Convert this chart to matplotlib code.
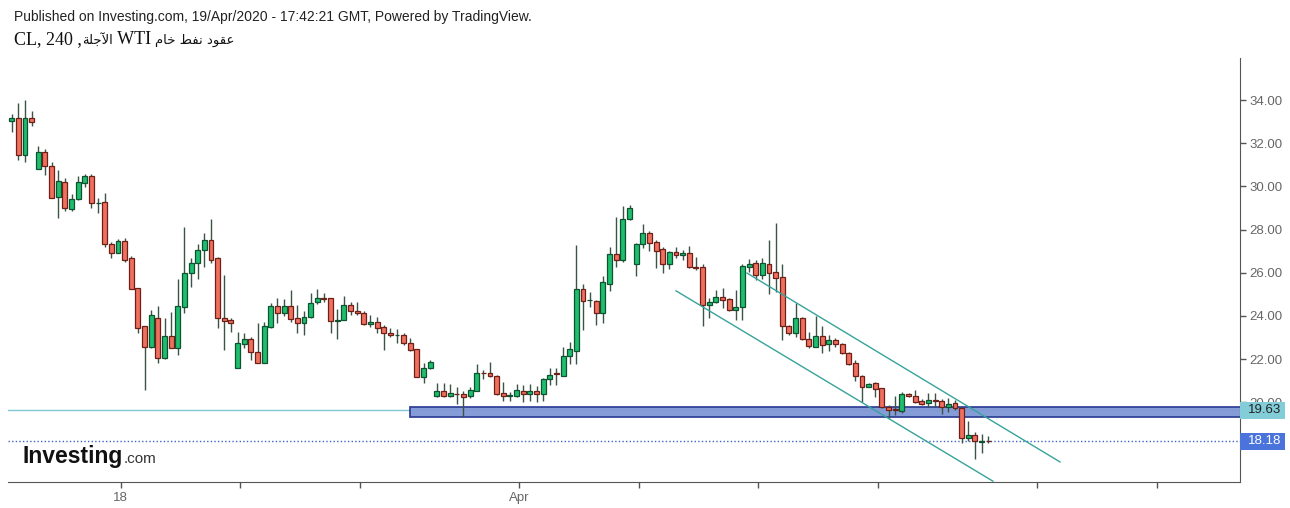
import numpy as np
import matplotlib
matplotlib.use('Agg')
import matplotlib.pyplot as plt
import matplotlib.transforms as mtransforms
from matplotlib.patches import Rectangle

plt.rcParams['font.family'] = ['Liberation Sans', 'DejaVu Sans']

# 4h candles of CL (WTI)
opens = [33.03, 33.15, 31.45, 33.15, 30.80, 31.58, 30.96, 29.52, 30.22, 28.95,
         29.40, 30.17, 30.49, 29.21, 29.26, 27.31, 26.93, 27.48, 26.66, 25.27,
         23.52, 22.57, 23.88, 22.03, 23.06, 22.49, 24.42, 25.97, 26.43, 27.05,
         27.51, 26.66, 23.92, 23.79, 21.57, 22.68, 22.91, 22.34, 21.80, 23.50,
         24.45, 24.12, 24.45, 23.88, 23.65, 23.93, 24.63, 24.83, 24.81, 23.78,
         23.80, 24.49, 24.24, 24.15, 23.61, 23.73, 23.47, 23.22, 23.10, 23.11,
         22.76, 22.45, 21.18, 21.57, 20.28, 20.52, 20.28, 20.37, 20.36, 20.28,
         20.53, 21.35, 21.34, 21.21, 20.41, 20.29, 20.28, 20.53, 20.38, 20.53,
         20.38, 21.06, 21.31, 21.21, 22.14, 22.39, 25.23, 24.72, 24.70, 24.12,
         25.47, 26.86, 26.59, 28.47, 26.40, 27.33, 27.85, 27.44, 27.08, 26.40,
         26.97, 26.82, 26.93, 26.26, 26.25, 24.50, 24.66, 24.89, 24.77, 24.27,
         24.39, 26.28, 26.43, 25.89, 26.40, 26.05, 25.78, 23.53, 23.19, 23.88,
         22.91, 22.57, 23.06, 22.70, 22.88, 22.70, 22.29, 21.80, 21.21, 20.72,
         20.88, 20.64, 19.76, 19.64, 19.61, 20.38, 20.28, 20.05, 19.95, 20.08,
         20.07, 19.76, 19.95, 19.71, 18.32, 18.48, 18.17, 18.19]
highs = [33.35, 33.85, 34.00, 33.49, 31.88, 31.73, 31.11, 30.76, 30.40, 29.63,
         30.49, 30.56, 30.56, 29.44, 29.68, 27.43, 27.56, 27.59, 26.79, 25.27,
         23.52, 24.27, 24.47, 23.88, 24.19, 25.71, 28.13, 26.66, 27.31, 27.82,
         28.47, 26.74, 25.89, 23.89, 23.24, 23.19, 23.04, 23.65, 23.73, 24.61,
         24.81, 24.76, 25.20, 24.50, 24.22, 25.07, 25.23, 25.07, 24.81, 24.30,
         24.92, 24.65, 24.65, 24.24, 24.04, 23.96, 23.58, 23.42, 23.37, 23.19,
         22.96, 22.45, 21.83, 21.95, 20.90, 20.90, 20.83, 20.72, 20.52, 20.69,
         21.77, 21.49, 21.88, 21.26, 20.95, 20.48, 20.83, 20.79, 20.85, 20.76,
         21.11, 21.57, 21.57, 22.57, 22.80, 27.28, 25.47, 25.12, 24.73, 25.84,
         27.17, 28.56, 29.09, 29.13, 27.39, 28.25, 27.94, 27.51, 27.17, 27.00,
         27.17, 27.05, 27.23, 26.71, 26.40, 24.81, 25.20, 25.27, 24.81, 25.20,
         26.40, 26.62, 26.59, 26.66, 27.51, 28.29, 26.40, 23.58, 24.58, 23.96,
         23.27, 24.00, 23.53, 23.11, 22.96, 22.76, 22.34, 21.95, 21.26, 20.90,
         20.95, 20.64, 19.87, 20.28, 20.48, 20.44, 20.56, 20.13, 20.41, 20.41,
         20.13, 20.18, 20.10, 19.76, 19.14, 18.63, 18.52, 18.43]
lows = [32.53, 31.22, 31.14, 32.81, 30.80, 30.52, 29.44, 28.52, 28.86, 28.86,
        29.37, 29.98, 29.01, 28.75, 27.20, 26.69, 26.90, 26.51, 25.24, 23.19,
        20.56, 22.53, 21.80, 22.00, 22.49, 22.18, 24.12, 25.35, 25.71, 26.28,
        26.43, 23.42, 22.42, 23.24, 21.57, 22.49, 21.94, 21.80, 21.80, 23.45,
        23.68, 23.99, 23.73, 23.22, 23.11, 23.88, 24.54, 24.66, 23.19, 22.91,
        23.80, 24.04, 24.04, 23.58, 23.47, 23.22, 22.42, 23.00, 22.75, 22.65,
        22.39, 21.15, 20.90, 21.53, 20.25, 20.23, 20.23, 19.90, 19.32, 20.18,
        20.50, 21.06, 21.18, 20.33, 20.07, 20.07, 20.25, 20.02, 20.07, 19.99,
        20.07, 20.79, 20.79, 21.21, 21.77, 21.77, 23.34, 24.40, 23.57, 23.68,
        25.16, 26.25, 26.51, 28.44, 25.84, 27.13, 27.02, 26.20, 25.97, 26.15,
        26.67, 26.59, 26.20, 26.12, 23.53, 23.88, 24.61, 24.35, 24.24, 23.80,
        23.80, 26.05, 25.66, 25.69, 25.01, 25.12, 22.88, 23.11, 23.04, 22.88,
        22.50, 22.57, 22.29, 22.39, 22.54, 22.23, 21.72, 21.00, 20.02, 20.69,
        20.25, 19.71, 19.25, 19.40, 19.49, 20.23, 19.98, 19.87, 19.79, 19.76,
        19.45, 19.56, 19.63, 18.09, 18.22, 17.36, 17.66, 18.13]
closes = [33.15, 31.45, 33.15, 32.97, 31.58, 30.96, 29.44, 30.26, 28.98, 29.40,
          30.19, 30.49, 29.21, 29.22, 27.31, 26.90, 27.48, 26.59, 25.24, 23.45,
          22.57, 24.04, 22.03, 23.06, 22.49, 24.45, 26.00, 26.43, 27.05, 27.51,
          26.59, 23.88, 23.76, 23.67, 22.73, 22.93, 22.34, 21.80, 23.53, 24.45,
          24.12, 24.45, 23.87, 23.65, 23.93, 24.58, 24.81, 24.79, 23.77, 23.80,
          24.49, 24.24, 24.12, 23.61, 23.73, 23.42, 23.19, 23.10, 23.11, 22.73,
          22.42, 21.18, 21.57, 21.85, 20.52, 20.28, 20.41, 20.36, 20.25, 20.56,
          21.34, 21.34, 21.21, 20.38, 20.28, 20.30, 20.56, 20.38, 20.53, 20.38,
          21.06, 21.26, 21.30, 22.14, 22.45, 25.23, 24.70, 24.73, 24.12, 25.58,
          26.86, 26.59, 28.47, 28.98, 27.33, 27.82, 27.39, 27.02, 26.40, 26.97,
          26.82, 26.93, 26.25, 26.24, 24.50, 24.66, 24.89, 24.73, 24.27, 24.39,
          26.31, 26.40, 25.89, 26.43, 26.00, 25.74, 23.53, 23.19, 23.88, 22.91,
          22.60, 23.06, 22.65, 22.88, 22.70, 22.26, 21.77, 21.21, 20.72, 20.84,
          20.60, 19.76, 19.64, 19.63, 20.38, 20.28, 20.02, 19.91, 20.10, 20.07,
          19.76, 19.91, 19.71, 18.32, 18.48, 18.22, 18.18, 18.18]

tick_pos = [16.4, 34.4, 52.4, 76.4, 94.4, 112.4, 130.4, 154.4, 172.4]
tick_labels = ['18', '', '', 'Apr', '', '', '', '', '']
price_ticks = [20, 22, 24, 26, 28, 30, 32, 34]

zone_low, zone_high, zone_start = 19.31, 19.77, 60.0
mark_level = 19.63
last_price = 18.18
channel_low = ([100.0, 147.7], [25.16, 16.34])
channel_high = ([110.7, 157.8], [25.98, 17.23])

GREEN, GREEN_EDGE = '#1fbe6f', '#0f5230'
RED, RED_EDGE = '#f0705f', '#6e1f17'
AXIS = '#555555'

fig = plt.figure(figsize=(12.9, 5.08), dpi=100)
ax = fig.add_axes([8 / 1290, 26 / 508, 1232 / 1290, 424 / 508])
ax.set_xlim(-0.56, 184.9)
ax.set_ylim(16.30, 35.95)

o = np.array(opens)
h = np.array(highs)
l = np.array(lows)
c = np.array(closes)
idx = np.arange(len(o))
up = c >= o

ax.vlines(idx, l, h, color='#3a5446', lw=1, zorder=3)
bottoms = np.minimum(o, c)
heights = np.maximum(np.abs(c - o), 0.03)
ax.bar(idx, heights, bottom=bottoms, width=0.74,
       color=np.where(up, GREEN, RED),
       edgecolor=np.where(up, GREEN_EDGE, RED_EDGE), linewidth=0.9, zorder=4)

# levels and zone
ax.axhline(mark_level, color='#7fc8d2', lw=1, zorder=1)
ax.add_patch(Rectangle((zone_start, zone_low), 200, zone_high - zone_low,
                       facecolor='#8097d6', edgecolor='#2c3d92', lw=1.3,
                       alpha=0.95, zorder=2))
ax.axhline(last_price, color='#3d64c8', lw=1, ls=(0, (1, 1.6)), zorder=2)

# channel
ax.plot(*channel_low, color='#36a39b', lw=1, zorder=5)
ax.plot(*channel_high, color='#36a39b', lw=1, zorder=5)

# axes styling
for s in ['top', 'left']:
    ax.spines[s].set_visible(False)
for s in ['bottom', 'right']:
    ax.spines[s].set_color(AXIS)
ax.yaxis.tick_right()
ax.set_yticks(price_ticks)
ax.set_yticklabels(['%.2f' % v for v in price_ticks])
ax.set_xticks(tick_pos)
ax.set_xticklabels(tick_labels)
ax.tick_params(axis='both', colors=AXIS, labelcolor='#666666', labelsize=9.5,
               length=4, width=1)
ax.tick_params(axis='y', pad=3)
ax.tick_params(axis='x', pad=3)

# price labels on the right
trans = mtransforms.blended_transform_factory(ax.transAxes, ax.transData)
box_w = 45 / 1232
for level, fc, tc in [(mark_level, '#82cdd8', '#222222'), (last_price, '#4a74dc', 'white')]:
    ax.add_patch(Rectangle((1.0, level - 0.40), box_w, 0.80, transform=trans,
                           facecolor=fc, edgecolor='none', clip_on=False, zorder=10))
    ax.text(1.0 + box_w / 2 + 0.002, level, '%.2f' % level, transform=trans,
            ha='center', va='center', fontsize=9.5, color=tc, zorder=11)

# header
fig.text(14 / 1290, 1 - 17 / 508,
         'Published on Investing.com, 19/Apr/2020 - 17:42:21 GMT, Powered by TradingView.',
         fontsize=10, color='#222222', va='center')

# title line: latin parts in serif, arabic (pre-shaped, visual order) smaller
title_parts = [
    ('CL, 240 ,', 'serif'),
    ('\uFE94\uFEE0\uFE9F\uFEF5\uFE8D', 'arabic'),
    (' WTI ', 'serif'),
    ('\uFEE1\uFE8E\uFEA7 \uFEC2\uFED4\uFEE7 \uFEA9\uFEEE\uFED8\uFECB', 'arabic'),
]
renderer = fig.canvas.get_renderer()
x_px = 14
for txt, kind in title_parts:
    if kind == 'serif':
        t = fig.text(x_px / 1290, 1 - 44 / 508, txt, fontsize=13,
                     family='Liberation Serif', color='#111111', va='baseline')
    else:
        t = fig.text(x_px / 1290, 1 - 44 / 508, txt, fontsize=9.5,
                     family='DejaVu Sans', color='#111111', va='baseline')
    x_px = t.get_window_extent(renderer).x1

# logo
logo = fig.text(22 / 1290, 1 - 463 / 508, 'Investing', fontsize=16.5, fontweight='bold',
                color='#111111', va='baseline')
bb = logo.get_window_extent(renderer)
fig.text((bb.x1 + 1) / 1290, 1 - 463 / 508, '.com', fontsize=11,
         color='#333333', va='baseline')

fig.savefig('out.png', dpi=100)
